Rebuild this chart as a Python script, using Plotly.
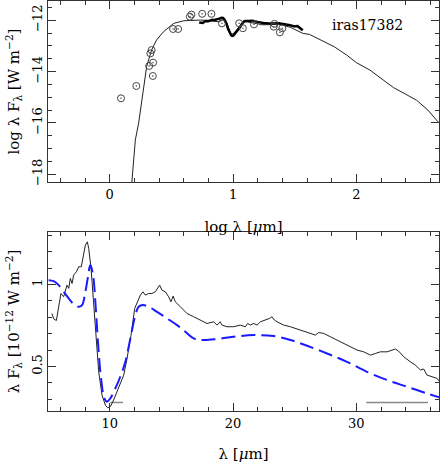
import numpy as np
import plotly.graph_objects as go
from plotly.subplots import make_subplots

# --- photometry (top panel), log wavelength [um] / log lambda F_lambda [W m^-2]
phot_logwl = [0.092, 0.216, 0.32, 0.33, 0.34, 0.352, 0.35, 0.514, 0.555, 0.65, 0.663,
              0.75, 0.825, 0.91, 1.05, 1.08, 1.17, 1.33, 1.336, 1.38, 1.40]
phot_logf = [-15.04, -14.56, -13.78, -13.29, -13.16, -13.65, -14.17, -12.34, -12.34, -11.86, -11.78,
             -11.75, -11.75, -12.12, -12.12, -12.31, -12.16, -12.25, -12.14, -12.47, -12.31]

# --- model SED, short and long wavelength parts (top panel)
sed_blue_logwl = [0.18, 0.208, 0.235, 0.263, 0.30, 0.34, 0.38, 0.438, 0.52, 0.60, 0.65, 0.70]
sed_blue_logf = [-18.3, -16.66, -16.0, -15.1, -13.8, -13.16, -12.77, -12.44, -12.12, -12.02, -12.0, -11.99]
sed_red_logwl = [1.62, 1.72, 1.82, 1.92, 2.0, 2.11, 2.2, 2.3, 2.4, 2.49, 2.58, 2.67]
sed_red_logf = [-12.55, -12.78, -13.03, -13.35, -13.65, -13.94, -14.25, -14.62, -14.88, -15.12, -15.5, -16.0]

# --- ISO spectrum, wavelength [um] / lambda F_lambda [1e-12 W m^-2]
obs_wl = [5.32, 5.46, 5.68, 5.86, 6.05, 6.27, 6.4, 6.54, 6.68, 6.81, 6.95, 7.08, 7.3, 7.49, 7.7,
          7.84, 8.03, 8.19, 8.3, 8.49, 8.7, 8.89, 9.11, 9.38, 9.65, 9.84, 10.05, 10.32, 10.73,
          11.14, 11.41, 11.73, 12.03, 12.27, 12.49, 12.7, 12.89, 13.16, 13.43, 13.7, 13.89,
          14.05, 14.24, 14.51, 14.78, 14.97, 15.14, 15.32, 15.73, 16.27, 16.81, 17.35, 17.89,
          18.43, 18.7, 18.97, 19.1, 19.51, 20.05, 20.59, 21.0, 21.19, 21.4, 21.68, 21.95,
          22.22, 22.62, 22.97, 23.16, 23.35, 23.57, 24.11, 24.65, 25.19, 25.73, 26.27, 26.68,
          26.95, 27.35, 27.89, 28.43, 28.97, 29.51, 30.05, 30.59, 31.14, 31.54, 31.95, 32.49,
          32.89, 33.16, 33.43, 33.84, 34.38, 34.78, 35.19, 35.46, 35.73, 36.14, 36.54, 36.76]
obs_flux = [0.823, 0.79, 0.78, 0.874, 0.945, 0.925, 0.955, 0.996, 0.976, 1.037, 1.006, 1.057,
            1.077, 1.108, 1.108, 1.169, 1.24, 1.26, 1.22, 1.098, 0.894, 0.69, 0.467, 0.325,
            0.264, 0.248, 0.254, 0.295, 0.366, 0.447, 0.549, 0.69, 0.854, 0.894, 0.935, 0.955,
            0.935, 0.945, 0.945, 0.955, 0.976, 0.996, 0.965, 0.955, 0.925, 0.894, 0.929, 0.894,
            0.864, 0.823, 0.803, 0.783, 0.762, 0.772, 0.752, 0.772, 0.752, 0.742, 0.742, 0.752,
            0.742, 0.762, 0.752, 0.762, 0.752, 0.772, 0.783, 0.793, 0.803, 0.783, 0.772, 0.752,
            0.742, 0.728, 0.711, 0.701, 0.691, 0.707, 0.701, 0.681, 0.661, 0.64, 0.62, 0.6,
            0.589, 0.569, 0.579, 0.589, 0.589, 0.6, 0.606, 0.593, 0.559, 0.528, 0.508, 0.478,
            0.484, 0.447, 0.437, 0.427, 0.406]

# --- model in the ISO range
mod_wl = [5.05, 5.46, 5.86, 6.27, 6.68, 7.08, 7.49, 7.76, 8.03, 8.22, 8.43, 8.65, 8.84, 9.05,
          9.3, 9.57, 9.78, 10.05, 10.46, 10.86, 11.27, 11.68, 12.08, 12.35, 12.7, 13.16, 13.84,
          14.65, 15.46, 16.14, 16.81, 17.35, 18.43, 20.05, 21.68, 23.3, 24.65, 26.0, 27.62,
          29.24, 30.86, 32.49, 34.11, 35.73, 36.81]
mod_flux = [1.026, 1.02, 0.996, 0.955, 0.915, 0.88, 0.864, 0.874, 0.955, 1.037, 1.118, 1.057,
            0.894, 0.65, 0.427, 0.305, 0.285, 0.305, 0.366, 0.437, 0.528, 0.671, 0.813, 0.864,
            0.874, 0.864, 0.833, 0.793, 0.752, 0.711, 0.671, 0.661, 0.665, 0.681, 0.691, 0.685,
            0.661, 0.626, 0.579, 0.528, 0.467, 0.417, 0.376, 0.335, 0.309]

# --- continuum reference segments (grey)
cont1_wl = [10.05, 11.08]
cont2_wl = [30.8, 35.8]
cont_level = [0.28, 0.28]

FONT = "DejaVu Serif"

fig = make_subplots(rows=2, cols=1, vertical_spacing=0.12)

# top panel: full SED
model_logwl = sed_blue_logwl + list(np.log10(mod_wl)) + sed_red_logwl
model_logf = sed_blue_logf + list(-12 + np.log10(mod_flux)) + sed_red_logf
fig.add_trace(go.Scatter(x=model_logwl, y=model_logf, mode="lines",
                         line=dict(color="#222222", width=1)), row=1, col=1)
fig.add_trace(go.Scatter(x=np.log10(obs_wl), y=-12 + np.log10(obs_flux), mode="lines",
                         line=dict(color="black", width=2.5)), row=1, col=1)
fig.add_trace(go.Scatter(x=phot_logwl, y=phot_logf, mode="markers",
                         marker=dict(symbol="circle-open-dot", size=7, color="#444444",
                                     line=dict(width=1))), row=1, col=1)

# bottom panel: ISO spectrum
fig.add_trace(go.Scatter(x=cont1_wl, y=cont_level, mode="lines",
                         line=dict(color="#888888", width=1.5)), row=2, col=1)
fig.add_trace(go.Scatter(x=cont2_wl, y=cont_level, mode="lines",
                         line=dict(color="#888888", width=1.5)), row=2, col=1)
fig.add_trace(go.Scatter(x=obs_wl, y=obs_flux, mode="lines",
                         line=dict(color="#222222", width=1)), row=2, col=1)
fig.add_trace(go.Scatter(x=mod_wl, y=mod_flux, mode="lines", line_shape="spline",
                         line=dict(color="#1a1aff", width=2, dash="14px,6px")), row=2, col=1)

axis_common = dict(showline=True, linecolor="#333333", linewidth=1, mirror="ticks",
                   ticks="inside", ticklen=8, tickcolor="#333333", showgrid=False,
                   zeroline=False, automargin=False,
                   tickfont=dict(family=FONT, size=13, color="black"))

fig.update_xaxes(**axis_common)
fig.update_yaxes(**axis_common)

fig.update_xaxes(range=[-0.5, 2.67], dtick=1, tick0=0,
                 minor=dict(ticks="inside", dtick=0.2, ticklen=4, tickcolor="#333333"),
                 title=dict(text="log λ [<i>μ</i>m]", font=dict(family=FONT, size=15), standoff=20),
                 domain=[0, 1], row=1, col=1)
fig.update_yaxes(range=[-18.3, -11.25], dtick=2, tick0=-12, tickangle=-90,
                 minor=dict(ticks="inside", dtick=0.5, ticklen=4, tickcolor="#333333"),
                 title=dict(text="log λ F<sub>λ</sub> [W m<sup>−2</sup>]",
                            font=dict(family=FONT, size=15), standoff=6),
                 domain=[0.5585, 1], row=1, col=1)
fig.update_xaxes(range=[5, 36.7], dtick=10, tick0=0,
                 minor=dict(ticks="inside", dtick=2, ticklen=4, tickcolor="#333333"),
                 title=dict(text="λ [<i>μ</i>m]", font=dict(family=FONT, size=15), standoff=20),
                 row=2, col=1)
fig.update_yaxes(range=[0.228, 1.32], dtick=0.5, tick0=0, tickangle=-90,
                 minor=dict(ticks="inside", dtick=0.1, ticklen=4, tickcolor="#333333"),
                 title=dict(text="λ F<sub>λ</sub> [10<sup>−12</sup> W m<sup>−2</sup>]",
                            font=dict(family=FONT, size=15), standoff=6),
                 domain=[0, 0.4366], row=2, col=1)

fig.add_annotation(x=2.09, y=-12.2, xref="x", yref="y", text="iras17382", showarrow=False,
                   font=dict(family=FONT, size=14, color="black"))

fig.update_layout(width=441, height=463, margin=dict(l=48, r=2, t=1, b=52),
                  showlegend=False, plot_bgcolor="white", paper_bgcolor="white",
                  hovermode=False, font=dict(family=FONT, color="black"))

# drop the default 8px page margin so the figure fills the window; no modebar
fig.write_html("out.html", config={"displayModeBar": False},
               post_script="document.body.style.margin='0';")
